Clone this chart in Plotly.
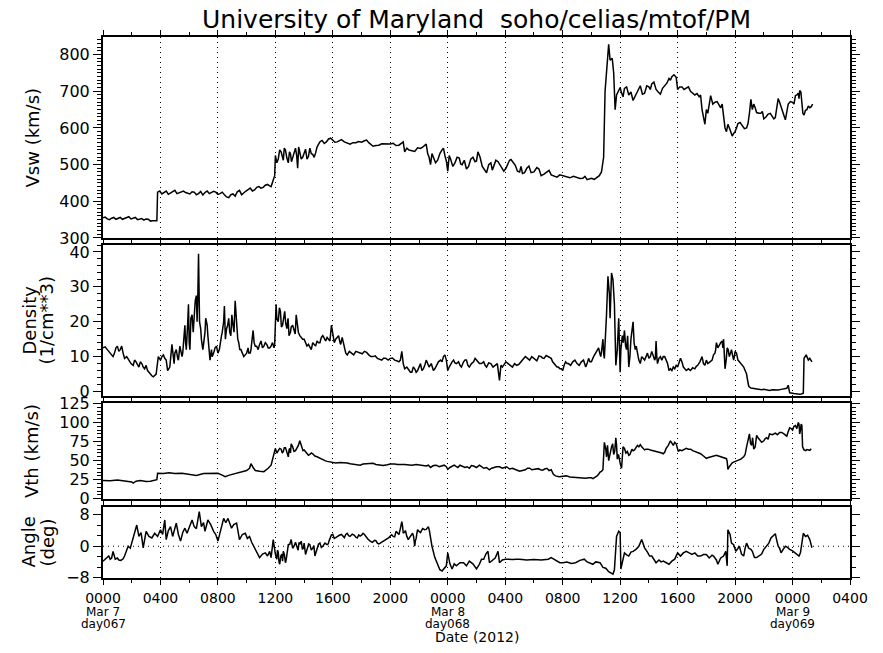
import plotly.graph_objects as go

# ---------------- data (hours since 0000 UT, 7 Mar 2012) ----------------
vsw_t = [0, 0.3, 0.6, 0.9, 1.2, 1.5, 1.8, 2.1, 2.4, 2.7, 3.0, 3.3, 3.6, 3.75, 3.8, 4.1, 4.4, 4.7, 5.0, 5.3,
         5.6, 5.9, 6.2, 6.5, 6.8, 7.1, 7.4, 7.7, 8.0, 8.3, 8.6, 8.9, 9.2, 9.5, 9.8, 10.1, 10.4, 10.7, 11.0, 11.3,
         11.6, 11.8, 11.95, 12.0, 12.2, 12.4, 12.55, 12.7, 12.9, 13.05, 13.2, 13.4, 13.55, 13.7, 13.9, 14.1, 14.3,
         14.5, 14.7, 14.9, 15.1, 15.4, 15.7, 16.0, 16.3, 16.6, 17.0, 17.4, 17.8, 18.2, 18.5, 18.8, 19.2, 19.6, 20.0,
         20.4, 20.8, 21.0, 21.3, 21.7, 22.1, 22.4, 22.6, 22.8, 23.0, 23.3, 23.6, 23.8, 24.0, 24.2, 24.5, 24.8, 25.0,
         25.3, 25.6, 25.9, 26.1, 26.4, 26.7, 27.0, 27.2, 27.5, 27.9, 28.2, 28.4, 28.7, 29.0, 29.2, 29.5, 29.8, 30.2,
         30.5, 30.9, 31.2, 31.6, 32.0, 32.5, 33.0, 33.4, 33.7, 34.0, 34.4, 34.7, 34.85, 34.95, 35.1, 35.2, 35.3,
         35.45, 35.55, 35.65, 35.75, 35.9, 36.1, 36.3, 36.6, 36.9, 37.2, 37.4, 37.7, 38.0, 38.2, 38.5, 38.8, 39.1,
         39.4, 39.6, 39.9, 40.0, 40.3, 40.6, 40.9, 41.2, 41.5, 41.7, 41.9, 42.1, 42.3, 42.6, 42.9, 43.1, 43.3, 43.5,
         43.8, 44.0, 44.2, 44.5, 44.8, 45.0, 45.1, 45.3, 45.5, 45.8, 46.0, 46.3, 46.6, 46.8, 47.0, 47.2, 47.5, 47.7,
         48.0, 48.2, 48.4, 48.5, 48.65, 48.8, 49.0, 49.2, 49.4]
vsw_v = [355, 352, 354, 351, 356, 353, 358, 355, 350, 353, 352, 346, 348, 347, 425, 420, 428, 423, 430, 424,
         428, 421, 426, 418, 427, 424, 421, 427, 419, 425, 412, 418, 414, 430, 424, 432, 428, 438, 436, 444,
         442, 452, 470, 525, 515, 535, 512, 540, 505, 530, 518, 545, 490, 535, 520, 542, 522,
         530, 520, 548, 562, 558, 570, 566, 562, 568, 558, 560, 563, 565, 560, 550, 553, 556, 556,
         552, 560, 535, 540, 536, 544, 552, 530, 500, 520, 512, 540, 525, 482, 515, 505, 518, 500,
         488, 515, 508, 535, 495, 478, 505, 498, 508, 482, 505, 514, 498, 480, 476, 490, 478, 492,
         470, 480, 472, 466, 470, 464, 464, 463, 459, 463, 466, 480, 520, 700, 780, 828, 785,
         790, 750, 650, 690, 705, 695, 708, 690, 675, 700, 715, 695, 712, 720, 705, 692, 715,
         735, 740, 738, 705, 712, 708, 700, 690, 685, 650, 610, 640, 688, 670, 660, 665, 600, 610,
         578, 590, 612, 605, 600, 640, 678, 665, 642, 640, 625, 638, 632, 628, 680, 660, 622, 665,
         670, 688, 695, 702, 660, 635, 650, 655, 665]
# additional readings between the ones above
vsw_t_extra = [0.15, 0.45, 0.75, 1.05, 1.35, 1.65, 1.95, 2.25, 2.55, 2.85, 3.15, 3.45,
               3.95, 4.25, 4.55, 4.85, 5.15, 5.45, 5.75, 6.05, 6.35, 6.65, 6.95, 7.25, 7.55, 7.85, 8.15, 8.45,
               8.75, 9.05, 9.35, 9.65, 9.95, 10.25, 10.55, 10.85, 11.15, 11.45, 11.7,
               12.1, 12.3, 12.48, 12.62, 12.8, 12.98, 13.12, 13.3, 13.48, 13.62, 13.8, 14.0, 14.2, 14.4, 14.6,
               14.8, 15.0, 15.25, 15.55, 15.85, 16.15, 16.45, 16.8, 17.2, 17.6, 18.0, 18.35, 18.65, 19.0, 19.4,
               19.8, 20.2, 20.6, 20.9, 21.15, 21.5, 21.9, 22.25, 22.5, 22.7, 22.9, 23.15, 23.45, 23.7, 23.9,
               24.1, 24.35, 24.65, 24.9, 25.15, 25.45, 25.75, 26.0, 26.25, 26.55, 26.85, 27.1, 27.35, 27.7,
               28.05, 28.3, 28.55, 28.85, 29.1, 29.35, 29.65, 30.0, 30.35, 30.7, 31.05, 31.4, 31.8, 32.25,
               32.75, 33.2, 33.55, 33.85, 34.2, 34.55,
               36.0, 36.2, 36.45, 36.75, 37.05, 37.3, 37.55, 37.85, 38.1, 38.35, 38.65, 38.95, 39.25, 39.5,
               39.75, 40.15, 40.45, 40.75, 41.05, 41.35, 41.6, 42.0, 42.2, 42.45, 42.75, 43.0, 43.2, 43.4,
               43.65, 43.9, 44.1, 44.35, 44.65, 44.9, 45.2, 45.4, 45.65, 45.9, 46.15, 46.45, 46.7, 46.9, 47.1,
               47.35, 47.6, 47.85, 48.1, 48.3, 48.45, 48.58, 48.72, 48.9, 49.1, 49.3]
vsw_v_extra = [357, 350, 356, 353, 351, 355, 352, 356, 352, 349, 351, 347,
               428, 424, 419, 427, 421, 426, 424, 420, 425, 421, 417, 428, 423, 425, 421, 418,
               410, 420, 426, 418, 428, 436, 431, 440, 438, 446, 440,
               505, 540, 520, 545, 518, 535, 508, 530, 525, 548, 515, 530, 515, 545, 528,
               532, 555, 566, 562, 572, 561, 565, 562, 556, 560, 561, 567, 555, 552, 557,
               555, 558, 553, 562, 545, 538, 546, 548, 556, 520, 530, 505, 530, 545, 510,
               525, 495, 520, 502, 512, 495, 520, 510, 520, 488, 500, 485, 512, 495,
               490, 512, 505, 482, 495, 478, 496, 480, 488, 474, 484, 468, 472, 466,
               468, 462, 468, 461, 460, 470,
               710, 685, 712, 698, 688, 705, 692, 715, 705, 725, 698, 708, 722, 730,
               745, 712, 705, 712, 695, 694, 690, 650, 670, 665, 672, 655, 625, 590,
               595, 585, 600, 615, 598, 612, 650, 655, 640, 645, 630, 640, 625, 660, 670,
               640, 650, 672, 665, 690, 680, 698, 640, 648, 660, 658]

den_t = [0, 0.3, 0.5, 0.7, 0.9, 1.1, 1.3, 1.5, 1.8, 2.1, 2.3, 2.5, 2.7, 2.9, 3.1, 3.3, 3.5, 3.7, 3.85, 4.0,
         4.2, 4.4, 4.5, 4.65, 4.8, 4.95, 5.1, 5.25, 5.4, 5.55, 5.7, 5.8, 5.95, 6.05, 6.2, 6.35, 6.5, 6.6, 6.65,
         6.72, 6.85, 7.0, 7.15, 7.3, 7.45, 7.6, 7.8, 8.0, 8.15, 8.3, 8.45, 8.6, 8.75, 8.9, 9.05, 9.2, 9.3, 9.45,
         9.6, 9.8, 10.0, 10.15, 10.3, 10.45, 10.6, 10.8, 11.0, 11.2, 11.4, 11.6, 11.8, 11.95, 12.05, 12.2, 12.35,
         12.5, 12.65, 12.8, 12.95, 13.1, 13.3, 13.45, 13.6, 13.8, 14.0, 14.2, 14.4, 14.6, 14.8, 15.0, 15.2, 15.4,
         15.6, 15.8, 15.9, 16.1, 16.3, 16.5, 16.65, 16.8, 17.0, 17.3, 17.6, 17.9, 18.2, 18.5, 18.8, 19.1, 19.4,
         19.7, 20.0, 20.3, 20.6, 20.8, 21.0, 21.3, 21.5, 21.7, 21.9, 22.1, 22.3, 22.5, 22.7, 23.0, 23.2, 23.5,
         23.7, 23.9, 24.0, 24.2, 24.4, 24.6, 24.85, 25.1, 25.3, 25.5, 25.8, 26.0, 26.2, 26.5, 26.7, 27.0, 27.3,
         27.6, 27.7, 27.9, 28.2, 28.5, 28.8, 29.1, 29.4, 29.7, 30.0, 30.2, 30.5, 30.7, 31.0, 31.2, 31.4, 31.6,
         31.8, 32.0, 32.2, 32.4, 32.7, 33.0, 33.3, 33.6, 33.8, 34.0, 34.3, 34.5, 34.65, 34.8, 34.9, 35.05, 35.15,
         35.25, 35.3, 35.4, 35.5, 35.6, 35.7, 35.8, 35.9, 36.0, 36.15, 36.3, 36.45, 36.6, 36.75, 36.9, 37.05,
         37.2, 37.4, 37.6, 37.8, 38.0, 38.2, 38.4, 38.5, 38.6, 38.8, 39.0, 39.2, 39.4, 39.6, 39.8, 40.0, 40.2,
         40.4, 40.6, 40.9, 41.2, 41.4, 41.7, 41.9, 42.1, 42.4, 42.6, 42.7, 42.9, 43.1, 43.2, 43.3, 43.45, 43.6,
         43.75, 43.9, 44.0, 44.2, 44.4, 44.6, 44.8, 44.95, 45.1, 45.4, 45.7, 46.0, 46.4, 46.8, 47.2, 47.6, 47.7,
         47.8, 48.1, 48.4, 48.6, 48.75, 48.8, 48.95, 49.1, 49.2, 49.35]
den_v = [12.5, 12, 11, 10, 12.5, 11.5, 13, 9.5, 9, 7.5, 8.5, 7, 8, 6.5, 6, 4.8, 4.2, 5, 10, 9,
         10.5, 9, 6, 7, 13.5, 8, 12, 9, 12, 11, 19, 12, 25, 12, 22, 24, 27.5, 27, 39.5,
         20, 15, 13.5, 21, 16, 9, 10, 12.5, 11, 14, 17, 24.5, 18, 21, 16, 19, 26, 18, 14,
         12, 10, 11, 11, 12, 17.5, 13, 12, 14.5, 13, 13.5, 12.5, 14, 13.5, 25, 20, 23,
         19, 23, 18, 16, 18.5, 17.5, 22, 17, 15.5, 15, 13, 12.5, 14, 13, 14, 15.5, 15,
         15.5, 14.5, 19, 14, 15.5, 14, 15.5, 12, 10.5, 11, 11.5, 11, 11.5, 10.5, 10, 9.5, 9,
         9.5, 9.5, 9, 8.5, 11.5, 6.5, 6, 5.5, 6.5, 6, 8, 6.5, 9, 7, 6, 7.5, 9,
         10, 9, 6, 8, 9, 8, 7.5, 8.5, 9, 7, 8.5, 9, 8, 8.5, 7, 8, 7.5,
         3.2, 7.5, 7.5, 8, 7, 7.5, 8.5, 10, 9, 9.5, 8.8, 10, 9.5, 10, 9.5, 8, 7,
         6.5, 6, 8.5, 8, 8.5, 8, 8.5, 7, 9.5, 8.5, 11, 12.5, 10, 15, 9.5, 22, 33,
         28, 21, 34, 32, 25, 7.5, 12, 21, 5.5, 16, 17.5, 12, 7, 15, 20, 12,
         11, 8, 9.5, 10, 9.5, 11.5, 9, 14.5, 8, 10, 10, 9, 6, 6, 6.5, 7, 9.5,
         7, 6, 6, 6.5, 7.5, 10, 7.5, 8, 9, 11, 14, 13.5, 14.5, 15, 6.5, 12.5, 10,
         12, 9, 11.5, 9, 8, 7, 5, 1.5, 1, 0.8, 0.5, 0.6, 0.3, 0.4, 0.6, 0.9, 1.8,
         -0.4, -0.6, -0.8, -0.7, -0.5, 9.5, 10.5, 9, 9.5, 8.5]
den_t_extra = [0.15, 0.4, 0.6, 0.8, 1.0, 1.2, 1.4, 1.65, 1.95, 2.2, 2.4, 2.6, 2.8, 3.0, 3.2, 3.4, 3.6, 4.1, 4.3,
               5.0, 5.2, 5.35, 5.5, 5.65, 5.75, 5.9, 6.0, 6.12, 6.28, 6.42, 6.55, 6.8, 6.95, 7.1, 7.25, 7.4,
               7.55, 7.7, 7.9, 8.1, 8.25, 8.4, 8.52, 8.68, 8.82, 8.97, 9.12, 9.25, 9.38, 9.52, 9.7, 9.9, 10.1,
               10.25, 10.38, 10.52, 10.7, 10.9, 11.1, 11.3, 11.5, 11.7, 11.9, 12.1, 12.28, 12.42, 12.58, 12.72,
               12.88, 13.05, 13.2, 13.38, 13.52, 13.7, 13.9, 14.1, 14.3, 14.5, 14.7, 14.9, 15.1, 15.3, 15.5,
               15.7, 16.0, 16.2, 16.4, 16.55, 16.72, 16.9, 17.15, 17.45, 17.75, 18.05, 18.35, 18.65, 18.95,
               19.25, 19.55, 19.85, 20.15, 20.45, 20.7, 20.9, 21.15, 21.4, 21.6, 21.8, 22.0, 22.2, 22.4, 22.6,
               22.85, 23.1, 23.35, 23.6, 23.8, 24.1, 24.3, 24.5, 24.75, 24.95, 25.2, 25.4, 25.65, 25.9, 26.1,
               26.35, 26.6, 26.85, 27.15, 27.45, 27.8, 28.05, 28.35, 28.65, 28.95, 29.25, 29.55, 29.85, 30.1,
               30.35, 30.6, 30.85, 31.1, 31.3, 31.5, 31.7, 31.9, 32.1, 32.3, 32.55, 32.85, 33.15, 33.45, 33.7,
               33.9, 34.15, 34.4, 34.58, 34.72, 34.85, 36.05, 36.22, 36.38, 36.52, 36.68, 36.82, 36.97, 37.12,
               37.3, 37.5, 37.7, 37.9, 38.1, 38.3, 38.45, 38.55, 38.7, 38.9, 39.1, 39.3, 39.5, 39.7, 39.9,
               40.1, 40.3, 40.5, 40.75, 41.05, 41.3, 41.55, 41.8, 42.0, 42.25, 42.5, 42.65, 42.8, 43.0, 43.15,
               43.38, 43.52, 43.68, 43.82, 43.95, 44.1, 44.3, 44.5, 44.7, 44.88, 45.25, 45.55, 45.85, 46.2,
               46.6, 47.0, 47.4, 48.25, 48.5, 49.0, 49.28]
den_v_extra = [12.8, 11.5, 10.5, 11, 13, 12, 11, 10, 8, 9, 7.5, 8.5, 7, 7.5, 5.5, 4.5, 4.5, 10, 9.5,
               11, 9.5, 13, 10, 17, 14, 20, 14, 21, 17, 26, 20, 18, 12, 17, 19, 11,
               12, 11, 13, 12, 16, 20, 15, 19, 17, 22, 17, 22, 15, 12, 11, 10.5, 12.5,
               11, 15, 14, 13, 13.5, 12.5, 14, 12.5, 13, 12.5, 21, 24, 18.5, 22, 19.5,
               21, 17, 19, 16.5, 19, 16, 15, 14, 13.5, 12, 13.5, 14.5, 14, 16, 14.5,
               15, 16, 15, 16, 13.5, 14, 11, 11.5, 10.5, 11.2, 10.8, 11.2, 10, 10.2,
               9.2, 9.6, 9, 9.6, 8.8, 9, 8, 7, 5.5, 7, 5.5, 7, 6, 7.5, 8,
               8, 6.5, 8.5, 8.5, 10.5, 7, 8.5, 8.2, 8.5, 7, 9, 7.5, 8, 9.5, 8.5,
               8, 7.5, 8.2, 7, 8, 7, 8.5, 7.5, 8, 7.8, 9, 9.5, 10, 9.2,
               10.2, 9.6, 10.3, 9.8, 8.5, 7.5, 7, 6.5, 7.5, 8, 7.5, 9, 7.5, 9, 8,
               8.5, 10, 11.5, 11, 12, 11, 12, 14, 13, 16, 10, 18, 14, 13,
               9, 10, 9, 11, 10, 10.5, 9.5, 10, 9.5, 9, 10, 8, 6.5, 7, 7.5,
               8.5, 8.5, 6.5, 6.5, 6.8, 7.2, 8.5, 8, 9, 8.5, 10.5, 12, 12.5, 14, 12.5,
               9, 12, 11, 10.5, 10, 11, 8.5, 7.5, 6, 3, 0.9, 0.7, 0.5, 0.4,
               0.5, 0.4, 0.8, -0.7, -0.8, 10, 9]

vth_t = [0, 0.5, 1.0, 1.5, 2.0, 2.1, 2.3, 2.6, 3.0, 3.3, 3.6, 3.75, 3.8, 4.2, 4.6, 5.0, 5.5, 6.0, 6.5, 7.0,
         7.5, 8.0, 8.3, 8.5, 8.8, 9.1, 9.4, 9.7, 10.0, 10.2, 10.3, 10.45, 10.6, 10.9, 11.2, 11.5, 11.7, 11.85,
         12.0, 12.2, 12.4, 12.55, 12.7, 12.9, 13.0, 13.1, 13.3, 13.5, 13.7, 13.85, 14.0, 14.2, 14.4, 14.6, 14.9,
         15.1, 15.3, 15.6, 16.0, 16.5, 17.0, 17.5, 17.9, 18.3, 18.8, 19.2, 19.5, 20.0, 20.5, 21.0, 21.5, 22.0,
         22.5, 22.8, 23.2, 23.6, 23.9, 24.0, 24.3, 24.6, 24.85, 25.2, 25.5, 25.8, 26.2, 26.5, 26.9, 27.2, 27.4,
         27.8, 28.1, 28.5, 29.0, 29.4, 29.7, 30.0, 30.3, 30.6, 30.9, 31.2, 31.5, 32.0, 32.5, 33.0, 33.4, 33.8,
         34.1, 34.4, 34.6, 34.8, 34.9, 35.05, 35.2, 35.3, 35.4, 35.55, 35.7, 35.8, 35.95, 36.1, 36.2, 36.4,
         36.6, 36.75, 36.9, 37.1, 37.4, 37.6, 37.8, 38.1, 38.5, 38.8, 39.0, 39.2, 39.5, 39.7, 39.9, 40.05,
         40.3, 40.6, 40.9, 41.2, 41.6, 42.0, 42.3, 42.7, 43.0, 43.4, 43.5, 43.7, 43.9, 44.2, 44.6, 44.8, 45.0,
         45.15, 45.3, 45.5, 45.7, 46.0, 46.2, 46.4, 46.8, 47.1, 47.4, 47.6, 47.8, 48.0, 48.2, 48.4, 48.5, 48.6,
         48.7, 48.9, 49.1, 49.3]
vth_v = [24, 23.5, 24.5, 23, 22, 20.5, 23, 24, 22.5, 23, 24.5, 25, 33.5, 33, 34, 33, 33.5, 32, 30.5, 33,
         33.5, 33.5, 31, 29, 31, 32.5, 34, 36, 37, 40, 46, 41, 37, 36, 35.5, 40, 44, 55,
         66, 63, 65, 62, 67, 55, 66, 72, 62, 66, 76, 68, 64, 60, 58, 59, 55,
         53, 50.5, 49, 48, 47.5, 47, 45, 44, 46, 46.5, 44.5, 43.5, 45.5, 45, 45, 44, 44.5,
         43, 41, 44, 43, 42, 38.5, 43, 42, 44, 41, 40, 43, 44, 40, 38, 41, 42,
         40, 42, 40, 36, 38, 40, 38.5, 39.5, 37.5, 40, 38, 30, 29.5, 28.5, 28, 27, 27.5,
         26.5, 30, 35, 38, 74, 55, 50, 62, 68, 58, 80, 52, 48, 40, 68, 60,
         57, 62, 63, 67, 71, 66, 65, 64, 63, 61, 59, 66, 76, 70, 72, 62,
         63, 66, 65, 62, 59, 53, 55, 57, 55, 52.5, 38.5, 45, 48, 51, 55, 68, 85,
         70, 65, 83, 78, 76, 80, 85, 86, 87, 85, 82, 93, 90, 96, 100, 85, 98,
         68, 63, 64, 65.5]
vth_t_extra = [12.1, 12.3, 12.48, 12.62, 12.8, 12.95, 13.05, 13.2, 13.4, 13.6, 13.78, 13.92, 14.1, 14.3, 14.5,
               14.75, 15.0, 15.2, 15.45, 15.8, 16.2, 16.8, 17.2, 17.7, 18.1, 18.55, 19.0, 19.8, 20.3, 21.2,
               21.8, 22.2, 22.65, 23.0, 23.4, 23.75, 24.15, 24.45, 24.7, 25.0, 25.35, 25.65, 26.0, 26.35,
               26.7, 27.05, 27.6, 27.95, 28.3, 28.75, 29.2, 29.55, 29.85, 30.15, 30.45, 30.75, 31.05, 31.35,
               31.75, 32.25, 32.75, 33.2, 33.6, 34.0, 34.25, 34.5, 34.7,
               35.0, 35.12, 35.25, 35.35, 35.48, 35.62, 35.75, 35.88, 36.02, 36.15, 36.3, 36.5, 36.68, 36.82,
               37.0, 37.2, 37.3, 37.5, 37.7, 37.95, 38.3, 38.65, 38.9, 39.1, 39.35, 39.6, 39.8, 40.15, 40.45,
               40.75, 41.05, 41.4, 41.8, 42.15, 42.5, 42.85, 43.2, 43.45, 43.6, 43.8, 44.05, 44.4, 44.7, 44.9,
               45.08, 45.22, 45.4, 45.6, 45.85, 46.1, 46.3, 46.6, 46.95, 47.25, 47.5, 47.7, 47.9, 48.1, 48.3,
               48.45, 48.55, 48.65, 48.8, 49.0, 49.2]
vth_v_extra = [60, 66, 60, 67, 61, 64, 60, 68, 63, 70, 72, 63, 62, 57, 60,
               56, 54, 52, 50, 48.5, 47, 47.5, 46, 45, 45.5, 46, 45, 44.5, 45.5, 44.5,
               45, 43.5, 44, 43.5, 42, 44, 41, 44, 41, 43, 42, 43.5, 41, 42,
               41, 40, 42, 41, 39, 38, 37, 40, 38, 40, 38, 39, 37, 32,
               29, 30, 28, 28, 27, 27.5, 28, 32, 36,
               65, 70, 55, 66, 72, 62, 70, 58, 45, 60, 66, 62, 58, 65,
               64, 70, 68, 68, 64, 65, 63, 62, 60, 61, 70, 72, 74, 64, 64,
               65, 63, 61, 56, 54, 56, 56, 54, 49, 42, 47, 49, 52, 58, 78,
               72, 80, 68, 80, 74, 79, 78, 84, 84, 87, 83, 88, 92, 95, 92,
               98, 90, 96, 64, 64.5, 63.5]

ang_t = [0, 0.2, 0.4, 0.6, 0.7, 0.85, 1.1, 1.4, 1.6, 1.75, 1.9, 2.0, 2.2, 2.35, 2.5, 2.65, 2.8, 2.9, 3.0, 3.2,
         3.4, 3.6, 3.8, 4.0, 4.15, 4.3, 4.4, 4.55, 4.7, 4.85, 5.0, 5.1, 5.25, 5.4, 5.55, 5.7, 5.85, 6.0, 6.2,
         6.35, 6.5, 6.7, 6.85, 7.0, 7.1, 7.3, 7.5, 7.7, 7.85, 8.0, 8.2, 8.4, 8.55, 8.7, 8.95, 9.1, 9.3, 9.5,
         9.7, 9.9, 10.05, 10.2, 10.35, 10.5, 10.7, 10.9, 11.1, 11.3, 11.45, 11.6, 11.7, 11.85, 12.0, 12.1, 12.2,
         12.3, 12.45, 12.55, 12.7, 12.8, 12.9, 13.1, 13.3, 13.5, 13.65, 13.8, 13.95, 14.1, 14.25, 14.4, 14.6,
         14.75, 14.9, 15.1, 15.3, 15.6, 15.75, 15.9, 16.1, 16.3, 16.6, 16.8, 17.0, 17.2, 17.5, 17.7, 17.9, 18.1,
         18.3, 18.6, 18.9, 19.1, 19.3, 19.5, 19.7, 19.9, 20.1, 20.3, 20.4, 20.6, 20.8, 20.9, 21.05, 21.25, 21.4,
         21.55, 21.7, 21.8, 21.9, 22.1, 22.4, 22.65, 22.8, 22.9, 23.1, 23.3, 23.45, 23.6, 23.75, 23.9, 24.0,
         24.15, 24.3, 24.45, 24.6, 24.85, 25.1, 25.3, 25.5, 25.75, 26.0, 26.2, 26.35, 26.5, 26.65, 26.8, 26.9,
         27.1, 27.3, 27.5, 27.6, 27.8, 28.0, 28.2, 28.5, 28.8, 29.0, 29.5, 30.0, 30.5, 31.0, 31.2, 31.4, 31.6,
         31.8, 32.0, 32.3, 32.6, 32.9, 33.2, 33.5, 33.7, 33.9, 34.1, 34.3, 34.6, 34.8, 35.0, 35.2, 35.35, 35.5,
         35.6, 35.7, 35.75, 35.9, 36.0, 36.05, 36.15, 36.3, 36.45, 36.6, 36.75, 36.9, 37.1, 37.3, 37.5, 37.6,
         37.7, 37.9, 38.05, 38.2, 38.35, 38.5, 38.7, 38.85, 39.0, 39.2, 39.4, 39.6, 39.8, 40.0, 40.2, 40.4,
         40.6, 40.8, 41.0, 41.2, 41.4, 41.6, 41.8, 42.0, 42.2, 42.4, 42.5, 42.7, 42.8, 43.0, 43.2, 43.35,
         43.45, 43.5, 43.65, 43.75, 43.9, 44.05, 44.2, 44.3, 44.45, 44.6, 44.7, 44.8, 44.95, 45.1, 45.2, 45.35,
         45.5, 45.7, 45.85, 46.0, 46.2, 46.35, 46.5, 46.7, 46.8, 46.9, 47.0, 47.1, 47.2, 47.35, 47.5, 47.65,
         47.8, 48.0, 48.2, 48.35, 48.45, 48.55, 48.7, 48.75, 48.9, 49.05, 49.2, 49.35]
ang_v = [-3.8, -3.2, -2.5, -3, -1.3, -3.3, -3.5, -3.2, -1.5, 0, -0.5, 0.8, 3.8, 5.4, 2.5, 3.5, -0.4, 1.5, 3.8, 2.5,
         2.1, 3.3, 2.5, 4.2, 3, 6.7, 1.7, 4, 5, 2.5, 4.5, 5.9, 3, 1.3, 3.5, 4.6, 3.3, 5, 6.7,
         5, 4.5, 8.8, 5, 6, 3.8, 6.7, 5.5, 3.8, 3, 1.3, 4, 7.1, 6, 7.1, 4.6, 5.5, 5.9, 1.7,
         3, 3.3, 2, 2.5, 1, 0, -1.7, -2.9, -2, -1.7, -2.5, -1.3, -2.9, 1.7, -2, -3.3, -1.5,
         -4.6, -2, -1.3, -4.2, -2.5, 0.4, 1.7, 0, -0.4, 1, 1.3, -0.5, -2.1, 0, 0.4, -0.5,
         -2.5, -0.5, 0.8, 0, 0.4, 1.5, 2.9, 2, 2.5, 3, 2.2, 3.3, 2.5, 2.8, 2.1, 2.6, 3.3,
         2.4, 1.3, 1.5, 0.8, 0.8, 1.2, 1.7, 2.2, 2.9, 2.4, 3.8, 3, 6.3, 3.3, 4, 1.7, 2.5,
         3.3, 0, 2, 4.2, 3.5, 4.2, 5, 2, 0, -2.9, -5, -6, -6.3, -5.5, -5, -1.7,
         -4.5, -5.8, -4.5, -5, -4.2, -4.2, -5, -3.8, -4.5, -5.8, -4.6, -3.3, -3.3, -2, -1.3, -4.2,
         -3.5, -3, -1.3, -4.2, -3.5, -3.3, -3.3, -3.4, -3.3, -3.3, -3.5, -3.4, -3.5, -3.3, -2.9, -3.3, -3.8,
         -4.2, -4.2, -4, -4.4, -4.2, -3.6, -3.3, -4, -4.4, -4.6, -4, -4.2, -5.4, -5.6, -6.5, -6.9, -7.1,
         -6, -1, 2.5, 3.8, 3.5, -5.8, -4, -1.7, -2.2, -2.5, -1.5, -1.3, -0.8, 0, 1.7, 0.8,
         -0.4, -1.5, -2.5, -2.5, -3.5, -4.2, -3.5, -4, -3.8, -4.2, -4.6, -3.8, -3.3, -1.7, -2.5, -1.7,
         -1.3, -1.7, -2.1, -1.7, -2.5, -2.5, -2.1, -2.1, -3, -2.3, -2.5, -3.5, -4.6, -3, -2.5, -1.3,
         -5, 4.2, 3, 0.8, 0.4, -1.3, -0.3, 0, -2, -2.5, -0.5, 0.8, -0.5, -0.8, -1.3, -2.9,
         -2.9, -2.5, -2, -0.8, 0.2, 0.8, 2.1, 2.8, 3.2, 1.5, 0, -0.5, -1.7, -0.8, 0, -0.3,
         -0.8, -1.2, -1.7, -2.2, -2.5, -1.7, 2, 3.3, 2.5, 2.8, 1.7, -0.4]
ang_t_extra = [0.1, 0.3, 0.5, 1.0, 1.25, 1.5, 12.05, 12.15, 12.25, 12.38, 12.5, 12.62, 12.75, 12.85, 13.0, 13.2,
               13.4, 13.58, 13.72, 13.88, 14.0, 14.18, 14.32, 14.5, 14.68, 14.82, 15.0, 15.2, 15.45, 15.68,
               15.82, 16.0, 16.2, 16.45, 16.7, 16.9, 17.1, 17.35, 17.6, 17.8, 18.0, 18.2, 18.45, 18.75, 19.0,
               19.2, 19.4, 19.6, 19.8, 20.0, 20.2, 20.5, 20.7, 20.85, 21.0, 21.15, 21.3, 21.48, 21.62, 21.75,
               21.85, 22.0, 22.25, 22.5, 22.72, 22.85]
ang_v_extra = [-3.5, -2.8, -3.3, -3.0, -3.6, -2.5, -3, -1, -4, -2.5, -3.8, -2, -3.5, -1, 0.5, -0.5,
               1, -1, 0.5, -0.8, 0.8, -1.2, 0.6, -1, 0.2, -1.5, 0.5, -0.3, 0.8, 0.6,
               2.2, 3, 2.2, 2.8, 2.6, 3, 2.7, 3.1, 2.3, 2.9, 2.8, 3.0, 1.8, 1.0, 1.4,
               0.6, 1.0, 1.4, 2.0, 2.6, 2.5, 3.5, 4.5, 5.2, 3.6, 2.5, 2.0, 3.2, 2.5, 1.5,
               3.3, 3.8, 4.5, 4.3, 4.0, 1.2]

# ---------------- axes text ----------------
x_tickvals = [0, 4, 8, 12, 16, 20, 24, 28, 32, 36, 40, 44, 48, 52]
x_ticktext = ["0000", "0400", "0800", "1200", "1600", "2000", "0000", "0400", "0800", "1200", "1600",
              "2000", "0000", "0400"]
day_tick_x = [0, 24, 48]
day_line1 = ["Mar 7", "Mar 8", "Mar 9"]
day_line2 = ["day067", "day068", "day069"]
title_text = "University of Maryland\u00a0\u00a0soho/celias/mtof/PM"
x_title = "Date (2012)"
y_titles = [["Vsw (km/s)"], ["Density", "(1/cm**3)"], ["Vth (km/s)"], ["Angle", "(deg)"]]


def merged(t1, v1, t2, v2):
    pairs = sorted(zip(t1 + t2, v1 + v2))
    return [p[0] for p in pairs], [p[1] for p in pairs]


FONT = "DejaVu Sans"
series = [merged(vsw_t, vsw_v, vsw_t_extra, vsw_v_extra),
          merged(den_t, den_v, den_t_extra, den_v_extra),
          merged(vth_t, vth_v, vth_t_extra, vth_v_extra),
          merged(ang_t, ang_v, ang_t_extra, ang_v_extra)]
domains = [[0.6285, 1.0], [0.3364, 0.6155], [0.146, 0.3235], [0.0, 0.1312]]
yranges = [[300, 848], [-1.3, 42], [-0.3, 125.5], [-8.1, 10.0]]
ymajor = [100, 10, 25, 8]
yminor = [10, 2, 5, 8 / 3]

fig = go.Figure()
for i, (t, v) in enumerate(series, start=1):
    fig.add_trace(go.Scatter(x=t, y=v, mode="lines", line=dict(color="black", width=1.5),
                             xaxis="x" if i == 1 else f"x{i}", yaxis="y" if i == 1 else f"y{i}",
                             showlegend=False, hoverinfo="skip"))

layout = dict(width=883, height=653, margin=dict(l=103, r=33, t=37, b=75),
              paper_bgcolor="white", plot_bgcolor="white",
              font=dict(family=FONT, color="black", size=14),
              title=dict(text=title_text, x=0.5, xref="paper", y=1 - 19 / 653, yanchor="middle",
                         font=dict(family=FONT, size=25, color="black")))

for i in range(1, 5):
    xa = dict(domain=[0, 1], anchor=f"y{i}" if i > 1 else "y", range=[0, 52],
              tickmode="array", tickvals=x_tickvals, ticktext=x_ticktext,
              showticklabels=(i == 4), ticks="outside", ticklen=5, tickwidth=1, tickcolor="black",
              ticklabelstandoff=1,
              tickfont=dict(family=FONT, size=14, color="black"),
              mirror="allticks", showline=True, linewidth=2, linecolor="black",
              showgrid=True, gridcolor="black", gridwidth=1, griddash="1px,4px", zeroline=False,
              minor=dict(tickmode="linear", tick0=0, dtick=2, ticks="outside", ticklen=3,
                         tickcolor="black", tickwidth=1, showgrid=False))
    if i > 1:
        xa["matches"] = "x"
    ya = dict(domain=domains[i - 1], anchor=f"x{i}" if i > 1 else "x", range=yranges[i - 1],
              tickmode="linear", tick0=0, dtick=ymajor[i - 1],
              ticks="outside", ticklen=8, tickwidth=1, tickcolor="black",
              tickfont=dict(family=FONT, size=16, color="black"),
              mirror="allticks", showline=True, linewidth=2, linecolor="black",
              showgrid=False, zeroline=False,
              minor=dict(tickmode="linear", tick0=0, dtick=yminor[i - 1], ticks="outside", ticklen=4,
                         tickcolor="black", tickwidth=1, showgrid=False))
    if i == 4:
        ya["tickmode"] = "array"
        ya["tickvals"] = [-8, 0, 8]
    key = "" if i == 1 else str(i)
    layout["xaxis" + key] = xa
    layout["yaxis" + key] = ya

fig.update_layout(**layout)

# zero reference line in the angle panel
fig.add_shape(type="line", xref="x4 domain", x0=0, x1=1, yref="y4", y0=0, y1=0,
              line=dict(color="black", width=1, dash="1px,4px"))

annotations = []
title_x = [[-71], [-73, -56], [-72], [-74, -55]]
for i, lines in enumerate(y_titles, start=1):
    yref = "y domain" if i == 1 else f"y{i} domain"
    for j, txt in enumerate(lines):
        annotations.append(dict(text=txt, xref="paper", x=0, xshift=title_x[i - 1][j], yref=yref, y=0.5,
                                textangle=-90, showarrow=False, xanchor="center", yanchor="middle",
                                font=dict(family=FONT, size=18, color="black")))
for xv, l1, l2 in zip(day_tick_x, day_line1, day_line2):
    annotations.append(dict(text=l1, xref="x4", x=xv, yref="paper", y=0, yshift=-34, showarrow=False,
                            xanchor="center", yanchor="middle", font=dict(family=FONT, size=12, color="black")))
    annotations.append(dict(text=l2, xref="x4", x=xv, yref="paper", y=0, yshift=-46, showarrow=False,
                            xanchor="center", yanchor="middle", font=dict(family=FONT, size=12, color="black")))
annotations.append(dict(text=x_title, xref="paper", x=0.5, yref="paper", y=0, yshift=-59, showarrow=False,
                        xanchor="center", yanchor="middle", font=dict(family=FONT, size=14, color="black")))
fig.update_layout(annotations=annotations)

fig.write_html("out.html")
